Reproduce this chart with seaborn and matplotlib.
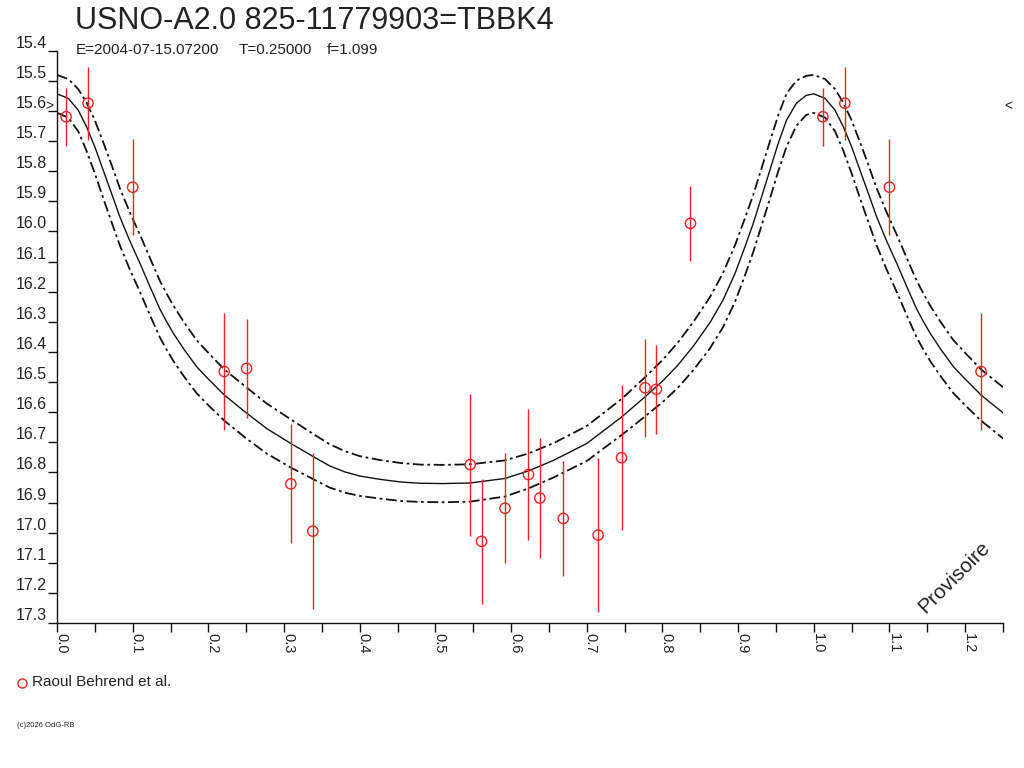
import matplotlib
matplotlib.use("Agg")
import matplotlib.pyplot as plt
from matplotlib.lines import Line2D
from matplotlib.ticker import MultipleLocator, FormatStrFormatter
from matplotlib.transforms import ScaledTranslation
import numpy as np
import pandas as pd
import seaborn as sns

# ---------------- data ----------------
title = "USNO-A2.0 825-11779903=TBBK4"
sub_epoch = "E=2004-07-15.07200"
sub_period = "T=0.25000"
sub_f = "f=1.099"
observer = "Raoul Behrend et al."

# observations (phase, magnitude, error)
obs_phase = [0.012, 0.041, 0.100, 0.221, 0.2505, 0.309, 0.338, 0.546, 0.561,
             0.592, 0.623, 0.638, 0.669, 0.715, 0.746, 0.777, 0.792, 0.837]
obs_mag = [15.619, 15.574, 15.853, 16.465, 16.455, 16.838, 16.995, 16.774, 17.029,
           16.919, 16.807, 16.885, 16.953, 17.008, 16.751, 16.519, 16.524, 15.973]
obs_err = [0.097, 0.121, 0.160, 0.195, 0.164, 0.198, 0.260, 0.236, 0.207,
           0.183, 0.218, 0.198, 0.190, 0.257, 0.240, 0.162, 0.148, 0.125]

# fitted light curve over one period
fit_phase = [0.000, 0.015, 0.028, 0.039, 0.050, 0.061, 0.072, 0.083, 0.096, 0.110,
             0.123, 0.136, 0.145, 0.154, 0.168, 0.1845, 0.200, 0.221, 0.251, 0.277,
             0.309, 0.339, 0.360, 0.380, 0.400, 0.427, 0.455, 0.480, 0.510, 0.546,
             0.592, 0.623, 0.656, 0.700, 0.746, 0.777, 0.800, 0.820, 0.841, 0.863,
             0.880, 0.896, 0.909, 0.920, 0.931, 0.942, 0.953, 0.964, 0.977, 0.990,
             1.000]
fit_mag = [15.543, 15.558, 15.597, 15.652, 15.719, 15.796, 15.873, 15.951, 16.030, 16.108,
           16.184, 16.258, 16.300, 16.339, 16.392, 16.449, 16.490, 16.543, 16.604, 16.654,
           16.704, 16.748, 16.778, 16.798, 16.812, 16.823, 16.832, 16.836, 16.837, 16.835,
           16.820, 16.795, 16.760, 16.704, 16.616, 16.549, 16.497, 16.445, 16.380, 16.302,
           16.228, 16.139, 16.051, 15.973, 15.885, 15.796, 15.707, 15.630, 15.574, 15.548,
           15.543]
fit_band = [0.063, 0.064, 0.070, 0.080, 0.088, 0.093, 0.095, 0.095, 0.095, 0.095,
            0.095, 0.094, 0.093, 0.092, 0.090, 0.088, 0.087, 0.085, 0.085, 0.083,
            0.080, 0.075, 0.072, 0.069, 0.066, 0.064, 0.063, 0.062, 0.062, 0.062,
            0.060, 0.058, 0.057, 0.058, 0.060, 0.065, 0.070, 0.075, 0.080, 0.085,
            0.090, 0.094, 0.095, 0.095, 0.095, 0.095, 0.093, 0.088, 0.075, 0.065,
            0.063]

ref_mag = 15.584  # marker level ">" / "<"

# ---------------- build frames ----------------
RED = "#ee2222"
INK = "#222222"
XMAX = 1.25

fit = pd.DataFrame({"phase": fit_phase, "mag": fit_mag, "band": fit_band})
fit_ext = pd.concat([fit, fit[fit.phase <= 0.26].assign(phase=lambda d: d.phase + 1.0)[1:]],
                    ignore_index=True).sort_values("phase")
fit_ext["hi"] = fit_ext["mag"] - fit_ext["band"]
fit_ext["lo"] = fit_ext["mag"] + fit_ext["band"]

obs = pd.DataFrame({"phase": obs_phase, "mag": obs_mag, "err": obs_err})
obs_ext = pd.concat([obs, obs[obs.phase + 1.0 < XMAX].assign(phase=lambda d: d.phase + 1.0)],
                    ignore_index=True)

# ---------------- figure ----------------
sns.set_theme(style="white")
plt.rcParams["font.family"] = ["Liberation Sans", "DejaVu Sans"]
plt.rcParams["text.color"] = INK

fig = plt.figure(figsize=(10.24, 7.68), dpi=100)
ax = fig.add_axes([57 / 1024, 1 - 623 / 768, (1003 - 57) / 1024, (623 - 50.8) / 768])

dash = (0, (6, 2, 1.5, 2))
sns.lineplot(data=fit_ext, x="phase", y="mag", ax=ax, color="#111111", lw=1.0,
             sort=False, estimator=None)
sns.lineplot(data=fit_ext, x="phase", y="hi", ax=ax, color="#111111", lw=1.3,
             linestyle=dash, sort=False, estimator=None)
sns.lineplot(data=fit_ext, x="phase", y="lo", ax=ax, color="#111111", lw=1.3,
             linestyle=dash, sort=False, estimator=None)

ax.errorbar(obs_ext["phase"], obs_ext["mag"], yerr=obs_ext["err"], fmt="none",
            ecolor=RED, elinewidth=1.0, capsize=0)
sns.scatterplot(data=obs_ext, x="phase", y="mag", ax=ax, marker="o", s=55,
                facecolors="none", edgecolors=RED, linewidth=1.0, zorder=5)

ax.set_xlim(0, XMAX)
ax.set_ylim(17.3, 15.4)
ax.set_xlabel("")
ax.set_ylabel("")

for side in ["top", "right"]:
    ax.spines[side].set_visible(False)
for side in ["left", "bottom"]:
    ax.spines[side].set_color("#111111")
    ax.spines[side].set_linewidth(1.0)

ax.xaxis.set_major_locator(MultipleLocator(0.1))
ax.xaxis.set_minor_locator(MultipleLocator(0.05))
ax.xaxis.set_major_formatter(FormatStrFormatter("%.1f"))
ax.yaxis.set_major_locator(MultipleLocator(0.1))
ax.yaxis.set_major_formatter(FormatStrFormatter("%.1f"))

ax.tick_params(axis="x", which="both", direction="out", length=6.5, width=1.0,
               color="#111111", bottom=True, pad=0.5, labelsize=10.5, labelcolor=INK)
ax.tick_params(axis="y", which="major", direction="out", length=6.5, width=1.0,
               color="#111111", left=True, pad=0.8, labelsize=11.5, labelcolor=INK)

for lab in ax.get_xticklabels():
    lab.set_rotation(-90)
    lab.set_ha("left")
    lab.set_va("top")
    lab.set_transform(lab.get_transform() + ScaledTranslation(-3 / 100, 0, fig.dpi_scale_trans))
for lab in ax.get_yticklabels():
    lab.set_va("bottom")

# reference level markers
ax.text(-0.004, ref_mag, ">", transform=ax.get_yaxis_transform(), ha="right", va="center",
        fontsize=10, color=INK)
ax.text(1.001, ref_mag, "<", transform=ax.get_yaxis_transform(), ha="left", va="center",
        fontsize=10, color=INK)

# watermark
fig.text(954 / 1024, 1 - 577 / 768, "Provisoire", rotation=45, ha="center", va="center",
         fontsize=15, color=INK)

# titles
fig.text(75 / 1024, 1 - 29 / 768, title, fontsize=22, ha="left", va="baseline", color=INK)
fig.text(76 / 1024, 1 - 54 / 768, sub_epoch, fontsize=11, ha="left", va="baseline", color=INK)
fig.text(239 / 1024, 1 - 54 / 768, sub_period, fontsize=11, ha="left", va="baseline", color=INK)
fig.text(327 / 1024, 1 - 54 / 768, sub_f, fontsize=11, ha="left", va="baseline", color=INK)

# legend
fig.add_artist(Line2D([21.5 / 1024], [1 - 683 / 768], marker="o", ls="none", mfc="none",
                      mec=RED, ms=6.5, mew=1.0, transform=fig.transFigure))
fig.text(32 / 1024, 1 - 682 / 768, observer, fontsize=11, ha="left", va="center", color=INK)

# copyright
fig.text(17 / 1024, 1 - 725.5 / 768, "(c)2026 OdG-RB", fontsize=5.5, ha="left", va="center",
         color=INK)

fig.savefig("out.png", dpi=100)
